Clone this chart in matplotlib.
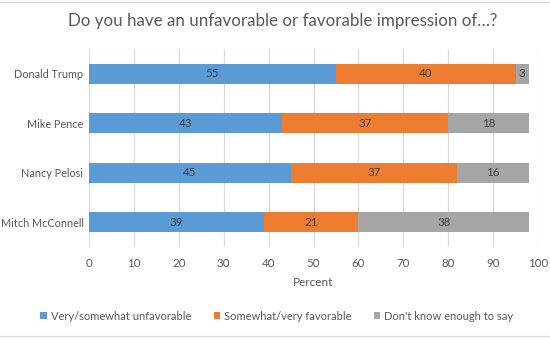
import matplotlib
matplotlib.use("Agg")
import matplotlib.pyplot as plt
from matplotlib.lines import Line2D
from matplotlib.patches import Patch

categories = ["Donald Trump", "Mike Pence", "Nancy Pelosi", "Mitch McConnell"]
series_names = ["Very/somewhat unfavorable", "Somewhat/very favorable", "Don't know enough to say"]
unfavorable = [55, 43, 45, 39]
favorable = [40, 37, 37, 21]
dont_know = [3, 18, 16, 38]
xticks = [0, 10, 20, 30, 40, 50, 60, 70, 80, 90, 100]

colors = ["#5B9BD5", "#ED7D31", "#A5A5A5"]
txt = "#595959"
plt.rcParams['font.family'] = ['Lato', 'DejaVu Sans']

W, H = 550, 343
fig = plt.figure(figsize=(W/100, H/100), dpi=100)
top, bottom = 49.3, 246.7
ax = fig.add_axes([89/W, 1-bottom/H, (538-89)/W, (bottom-top)/H])

ypos = list(range(len(categories)))
left = [0]*len(categories)
for vals, c in zip([unfavorable, favorable, dont_know], colors):
    ax.barh(ypos, vals, left=left, height=0.405, color=c, zorder=3)
    for y, v, l in zip(ypos, vals, left):
        ax.text(l + v/2, y, str(v), ha='center', va='center', fontsize=8.3, color="#404040", zorder=4)
    left = [a + b for a, b in zip(left, vals)]

ax.set_xlim(0, 100)
ax.set_ylim(3.5, -0.5)
ax.set_xticks(xticks)
ax.set_xticklabels([str(t) for t in xticks], fontsize=8.3, color=txt)
ax.set_yticks(ypos)
ax.set_yticklabels(categories, fontsize=7.8, color=txt)
ax.tick_params(length=0)
ax.tick_params(axis='y', pad=4)
ax.tick_params(axis='x', pad=8)
ax.grid(axis='x', color="#D9D9D9", linewidth=0.9, zorder=0)
for s in ax.spines.values():
    s.set_visible(False)
ax.set_xlabel("Percent", fontsize=8.5, color=txt, labelpad=6)

fig.text(0.5 + 8/W, 1-21/H, "Do you have an unfavorable or favorable impression of…?",
         ha='center', va='center', fontsize=12.2, color=txt)

handles = [Patch(facecolor=c, edgecolor='none') for c in colors]
fig.legend(handles, series_names, loc='center', bbox_to_anchor=(277/W, 1-316/H),
           ncol=3, frameon=False, fontsize=8, labelcolor=txt, handlelength=0.55,
           handleheight=0.55, handletextpad=0.4, columnspacing=2.0)

fig.add_artist(Line2D([0, 1], [1-2/H, 1-2/H], color="#D9D9D9", linewidth=1))
fig.add_artist(Line2D([0, 1], [1-336/H, 1-336/H], color="#D9D9D9", linewidth=1))

fig.savefig("out.png", dpi=100)
